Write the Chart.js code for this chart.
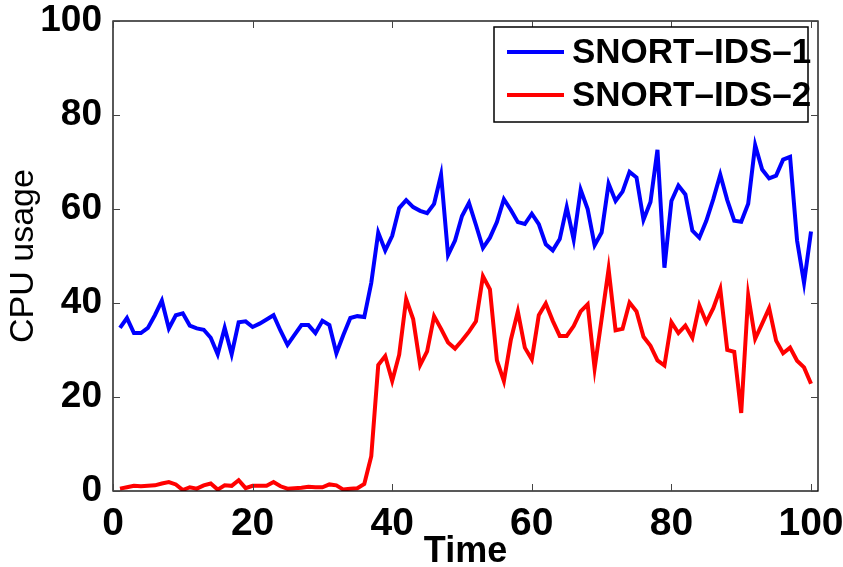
<!DOCTYPE html>
<html>
<head>
<meta charset="utf-8">
<script src="https://cdn.jsdelivr.net/npm/chart.js@4/dist/chart.umd.min.js"></script>
<style>
  html, body { margin: 0; padding: 0; background: #fff; }
  #wrap { width: 843px; height: 567px; }
</style>
</head>
<body>
<div id="wrap"><canvas id="cpu"></canvas></div>
<script>
// tiempo (muestras)
const tiempo = [1,2,3,4,5,6,7,8,9,10,11,12,13,14,15,16,17,18,19,20,
  21,22,23,24,25,26,27,28,29,30,31,32,33,34,35,36,37,38,39,40,
  41,42,43,44,45,46,47,48,49,50,51,52,53,54,55,56,57,58,59,60,
  61,62,63,64,65,66,67,68,69,70,71,72,73,74,75,76,77,78,79,80,
  81,82,83,84,85,86,87,88,89,90,91,92,93,94,95,96,97,98,99,100];

const snort1 = [34.7,36.8,33.6,33.6,34.7,37.4,40.5,34.6,37.4,37.8,
  35.2,34.6,34.3,32.6,29.1,34.7,29.1,35.9,36.1,34.9,
  35.6,36.5,37.4,34.1,31.1,33.2,35.3,35.3,33.6,36.2,
  35.3,29.3,33.2,36.8,37.2,37.0,44.3,55.0,51.2,54.3,
  60.2,61.9,60.4,59.6,59.1,61.1,67.3,50.2,53.3,58.5,
  61.3,56.6,51.7,53.9,57.2,62.1,59.8,57.2,56.8,59.0,
  56.8,52.5,51.2,53.6,60.4,53.5,64.1,60.0,52.3,55.0,
  65.4,61.7,63.7,67.9,66.7,57.7,61.5,72.6,47.5,61.7,
  65.0,63.1,55.4,53.9,57.5,62.1,67.3,61.9,57.5,57.3,
  61.1,73.6,68.4,66.5,67.1,70.5,71.1,53.3,44.3,55.2];

const snort2 = [0.5,0.8,1.1,1.0,1.1,1.2,1.6,1.9,1.4,0.2,
  0.8,0.5,1.2,1.6,0.3,1.2,1.1,2.3,0.6,1.1,
  1.1,1.1,1.9,1.0,0.5,0.6,0.7,0.9,0.8,0.8,
  1.4,1.2,0.3,0.5,0.6,1.5,7.4,26.8,28.7,23.4,
  29.0,40.8,36.6,26.8,29.7,37.2,34.5,31.6,30.3,32.0,
  33.9,36.1,45.7,42.9,27.8,23.4,32.2,38.2,30.5,28.0,
  37.4,39.9,36.2,33.0,33.0,35.1,38.2,39.7,26.1,36.6,
  47.2,34.2,34.5,40.1,38.2,32.8,30.9,27.8,26.7,35.9,
  33.6,35.2,32.6,39.5,35.9,38.9,43.0,30.0,29.6,16.6,
  41.6,32.4,35.6,38.9,32.0,29.3,30.5,27.7,26.3,22.8];

const ticksX = [0, 20, 40, 60, 80, 100];
const ticksY = [0, 20, 40, 60, 80, 100];

const etiquetas = ['SNORT\u2013IDS\u20131', 'SNORT\u2013IDS\u20132'];
const colores = ['#0000ff', '#ff0000'];

const FUENTE = "'Liberation Sans', Arial, Helvetica, sans-serif";

// Caja + marcas hacia adentro (estilo MATLAB) y leyenda dentro del area
const marcoPlugin = {
  id: 'marco',
  afterDatasetsDraw(chart) {
    const ctx = chart.ctx;
    const a = chart.chartArea;
    const xs = chart.scales.x;
    const ys = chart.scales.y;
    ctx.save();
    ctx.strokeStyle = '#000';
    ctx.lineWidth = 1.3;
    ctx.strokeRect(a.left, a.top, a.right - a.left, a.bottom - a.top);
    ctx.strokeStyle = '#444';
    ctx.lineWidth = 1;
    const L = 7;
    xs.ticks.forEach((t) => {
      const px = Math.round(xs.getPixelForValue(t.value)) + 0.5;
      ctx.beginPath();
      ctx.moveTo(px, a.bottom); ctx.lineTo(px, a.bottom - L);
      ctx.moveTo(px, a.top); ctx.lineTo(px, a.top + L);
      ctx.stroke();
    });
    ys.ticks.forEach((t) => {
      const py = Math.round(ys.getPixelForValue(t.value)) + 0.5;
      ctx.beginPath();
      ctx.moveTo(a.left, py); ctx.lineTo(a.left + L, py);
      ctx.moveTo(a.right, py); ctx.lineTo(a.right - L, py);
      ctx.stroke();
    });

    /* leyenda */
    const w = 314, h = 95;
    const bx = a.right - 10 - w, by = a.top + 6;
    ctx.fillStyle = '#fff';
    ctx.fillRect(bx, by, w, h);
    ctx.strokeStyle = '#000';
    ctx.lineWidth = 1.5;
    ctx.strokeRect(bx, by, w, h);
    ctx.font = 'bold 35px ' + FUENTE;
    ctx.textBaseline = 'middle';
    ctx.textAlign = 'left';
    chart.data.datasets.forEach((ds, i) => {
      const y = by + 25 + i * 43;
      ctx.strokeStyle = ds.borderColor;
      ctx.lineWidth = 4;
      ctx.beginPath();
      ctx.moveTo(bx + 13, y); ctx.lineTo(bx + 70, y);
      ctx.stroke();
      ctx.fillStyle = '#000';
      ctx.fillText(ds.label, bx + 78, y + 1);
    });
    ctx.restore();
  },
};

new Chart('cpu', {
  type: 'line',
  data: {
    datasets: [
      {
        label: etiquetas[0],
        data: tiempo.map((t, i) => ({ x: t, y: snort1[i] })),
        borderColor: colores[0],
        borderWidth: 4,
        pointRadius: 0,
        tension: 0,
        fill: false,
      },
      {
        label: etiquetas[1],
        data: tiempo.map((t, i) => ({ x: t, y: snort2[i] })),
        borderColor: colores[1],
        borderWidth: 4,
        pointRadius: 0,
        tension: 0,
        fill: false,
      },
    ],
  },
  options: {
    responsive: true,
    maintainAspectRatio: false,
    animation: false,
    layout: { padding: { left: 0, top: 21, right: 25, bottom: 0 } },
    plugins: { legend: { display: false }, tooltip: { enabled: false } },
    scales: {
      x: {
        type: 'linear',
        min: 0,
        max: 101,
        border: { display: false },
        grid: { display: false },
        afterBuildTicks: (s) => { s.ticks = ticksX.map((v) => ({ value: v })); },
        ticks: {
          color: '#000',
          padding: 2,
          maxRotation: 0,
          font: { family: FUENTE, size: 39, weight: 'bold' },
        },
        title: {
          display: true,
          text: 'Time',
          color: '#000',
          padding: { top: 0, bottom: -3 },
          font: { family: FUENTE, size: 36, weight: 'bold', lineHeight: 1 },
        },
        afterFit: (s) => { s.height = 76; s.paddingLeft = 0; s.paddingRight = 0; },
      },
      y: {
        min: 0,
        max: 100,
        border: { display: false },
        grid: { display: false },
        afterBuildTicks: (s) => { s.ticks = ticksY.map((v) => ({ value: v })); },
        ticks: {
          color: '#000',
          padding: 3,
          font: { family: FUENTE, size: 37, weight: 'bold' },
        },
        title: {
          display: true,
          text: 'CPU usage',
          color: '#000',
          padding: { top: 7, bottom: 0 },
          font: { family: FUENTE, size: 34, weight: 'normal', lineHeight: 1 },
        },
        afterFit: (s) => { s.width = 113; s.paddingTop = 0; s.paddingBottom = 0; },
      },
    },
  },
  plugins: [marcoPlugin],
});
</script>
</body>
</html>
